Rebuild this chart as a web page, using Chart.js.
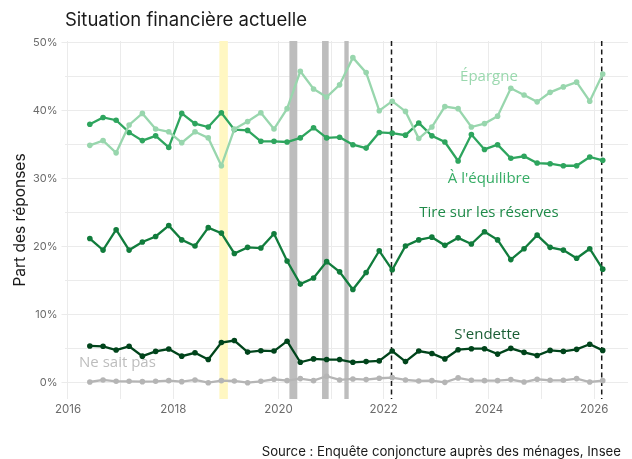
<!DOCTYPE html>
<html><head><meta charset="utf-8">
<script src="https://cdn.jsdelivr.net/npm/chart.js@4"></script>
<style>html,body{margin:0;padding:0;background:#fff}canvas{display:block}</style>
</head><body>
<canvas id="c" width="632" height="459"></canvas>
<script>
// ---- data ----
const dates = ["2016-06","2016-09","2016-12","2017-03","2017-06","2017-09","2017-12","2018-03","2018-06","2018-09",
  "2018-12","2019-03","2019-06","2019-09","2019-12","2020-03","2020-06","2020-09","2020-12","2021-03",
  "2021-06","2021-09","2021-12","2022-03","2022-06","2022-09","2022-12","2023-03","2023-06","2023-09",
  "2023-12","2024-03","2024-06","2024-09","2024-12","2025-03","2025-06","2025-09","2025-12","2026-03"];
const epargne = [34.9,35.6,33.8,37.9,39.6,37.3,36.9,35.3,36.9,36.0,31.9,37.3,38.4,39.7,37.3,40.3,45.8,43.2,42.0,43.8,
  47.8,45.6,40.0,41.4,39.9,35.9,37.6,40.6,40.3,37.6,38.1,39.2,43.3,42.3,41.3,42.7,43.5,44.2,41.4,45.4];
const equilibre = [38.0,39.0,38.6,36.8,35.6,36.3,34.6,39.6,38.1,37.6,39.7,37.2,37.1,35.5,35.5,35.4,36.0,37.5,36.0,36.1,
  35.0,34.5,36.8,36.7,36.4,38.2,36.3,35.4,32.6,36.5,34.3,35.0,33.0,33.3,32.3,32.2,31.9,31.9,33.2,32.7];
const reserves = [21.2,19.5,22.5,19.5,20.7,21.5,23.1,21.0,20.1,22.8,22.0,19.0,19.9,19.8,21.9,17.9,14.5,15.4,17.8,16.3,
  13.7,16.2,19.4,16.6,20.1,21.0,21.4,20.2,21.3,20.4,22.2,21.0,18.1,19.7,21.7,19.9,19.5,18.3,19.7,16.7];
const endette = [5.4,5.35,4.8,5.35,3.9,4.6,4.95,3.9,4.4,3.4,5.9,6.2,4.5,4.7,4.65,6.1,3.0,3.5,3.4,3.4,
  3.0,3.1,3.2,4.65,3.1,4.65,4.3,3.5,4.85,5.0,5.0,4.2,5.05,4.45,4.0,4.75,4.6,4.9,5.65,4.75];
const neSaitPas = [0.1,0.4,0.2,0.2,0.15,0.2,0.3,0.15,0.4,0.0,0.3,0.25,0.0,0.2,0.5,0.3,0.6,0.3,0.95,0.4,
  0.55,0.45,0.65,0.75,0.4,0.25,0.3,0.05,0.7,0.35,0.3,0.3,0.45,0.1,0.5,0.35,0.35,0.6,0.1,0.3];
const seriesNames = ["Épargne","À l'équilibre","Tire sur les réserves","S'endette","Ne sait pas"];
const yearTicks = [2016,2017,2018,2019,2020,2021,2022,2023,2024,2025,2026];
const percentTicks = [0,5,10,15,20,25,30,35,40,45,50];
const confinements = [["2020-03-17","2020-05-11"],["2020-10-30","2020-12-15"],["2021-04-03","2021-05-03"]];
const giletsJaunes = [["2018-11-17","2019-01-15"]];
const eventLines = ["2022-02-24","2026-02-22"];
const titleText = "Situation financière actuelle";
const yTitle = "Part des réponses";
const sourceText = "Source : Enquête conjoncture auprès des ménages, Insee";

// ---- helpers ----
function toYear(s){
  const p = s.split("-").map(Number);
  const y = p[0], m = p[1], d = p[2] || 1;
  const t = Date.UTC(y, m-1, d), a = Date.UTC(y,0,1), b = Date.UTC(y+1,0,1);
  return y + (t-a)/(b-a);
}
const colors = ["#98d6ad","#2ea55e","#117c3c","#00441b","#b5b5b5"];
const textColors = ["#9ad8ae","#37ad66","#1f8a49","#1a5e35","#bdbdbd"];
const labelPos = [
  {x:"2024-01", y:45.0},
  {x:"2024-01", y:30.0},
  {x:"2024-01", y:25.0},
  {x:"2023-12-20", y:7.0},
  {x:"2016-12-10", y:2.9}
];
const allSeries = [epargne, equilibre, reserves, endette, neSaitPas];

const FONT = "Inter, 'Open Sans', sans-serif";

const overlay = {
  id:"overlay",
  beforeDatasetsDraw(chart){
    const {ctx, chartArea:a, scales:{x}} = chart;
    ctx.save();
    ctx.fillStyle = "#fff7c2";
    giletsJaunes.forEach(([s,e])=>{
      const x0 = x.getPixelForValue(toYear(s)), x1 = x.getPixelForValue(toYear(e));
      ctx.fillRect(x0, a.top, x1-x0, a.bottom-a.top);
    });
    ctx.fillStyle = "#bdbdbd";
    confinements.forEach(([s,e])=>{
      const x0 = x.getPixelForValue(toYear(s)), x1 = x.getPixelForValue(toYear(e));
      ctx.fillRect(x0, a.top, x1-x0, a.bottom-a.top);
    });
    ctx.strokeStyle = "#1a1a1a"; ctx.lineWidth = 1.5; ctx.setLineDash([5,3.5]);
    eventLines.forEach(d=>{
      const px = x.getPixelForValue(toYear(d));
      ctx.beginPath(); ctx.moveTo(px, a.top); ctx.lineTo(px, a.bottom); ctx.stroke();
    });
    ctx.restore();
  },
  afterDatasetsDraw(chart){
    const {ctx, scales:{x,y}} = chart;
    ctx.save();
    ctx.font = "15px 'Open Sans', sans-serif";
    ctx.textAlign = "center"; ctx.textBaseline = "middle";
    seriesNames.forEach((n,i)=>{
      ctx.fillStyle = textColors[i];
      ctx.fillText(n, x.getPixelForValue(toYear(labelPos[i].x)), y.getPixelForValue(labelPos[i].y));
    });
    ctx.restore();
  },
  afterDraw(chart){
    const {ctx, chartArea:a} = chart;
    ctx.save();
    ctx.fillStyle = "#1a1a1a";
    ctx.textBaseline = "middle"; ctx.textAlign = "left";
    ctx.font = "18.5px " + FONT;
    ctx.fillText(titleText, 65, 20);
    ctx.font = "13.2px " + FONT;
    ctx.textAlign = "right";
    ctx.fillText(sourceText, 621, 452);
    ctx.translate(20, (a.top+a.bottom)/2);
    ctx.rotate(-Math.PI/2);
    ctx.textAlign = "center";
    ctx.font = "15.5px " + FONT;
    ctx.fillText(yTitle, 0, 0);
    ctx.restore();
  }
};

new Chart(document.getElementById("c"), {
  type: "line",
  data: {
    datasets: allSeries.map((vals,i)=>({
      label: seriesNames[i],
      data: vals.map((v,k)=>({x: toYear(dates[k]), y: v})),
      borderColor: colors[i],
      backgroundColor: colors[i],
      pointBackgroundColor: colors[i],
      pointBorderWidth: 0,
      pointRadius: 2.8,
      borderWidth: 2.3,
      tension: 0,
      fill: false
    }))
  },
  options: {
    responsive: false,
    animation: false,
    devicePixelRatio: 1,
    layout: {padding: {top: 41, right: 0, bottom: 0, left: 0}},
    plugins: {legend: {display: false}, tooltip: {enabled: false}, title: {display: false}},
    scales: {
      x: {
        type: "linear", min: 2015.934, max: 2026.642,
        afterBuildTicks: s => { s.ticks = yearTicks.map(v=>({value:v})); },
        afterFit: s => { s.height = 60; },
        border: {display: false},
        grid: {color: "#ebebeb", lineWidth: 1, drawTicks: false},
        ticks: {
          autoSkip: false, maxRotation: 0, padding: 4,
          color: "#6b6b6b", font: {family: FONT, size: 11.5},
          callback: v => (v % 2 === 0 ? String(v) : "")
        }
      },
      y: {
        min: -2.4, max: 50.25,
        afterBuildTicks: s => { s.ticks = percentTicks.map(v=>({value:v})); },
        afterFit: s => { s.width = 64.5; },
        border: {display: false},
        grid: {
          color: "#ebebeb", lineWidth: 1, tickLength: 3,
          tickColor: c => (c.tick && c.tick.value % 10 === 0 ? "#ebebeb" : "rgba(0,0,0,0)")
        },
        ticks: {
          autoSkip: false, padding: 4,
          color: "#6b6b6b", font: {family: FONT, size: 11},
          callback: v => (v % 10 === 0 ? v + "%" : "")
        }
      }
    }
  },
  plugins: [overlay]
});
</script>
</body></html>
